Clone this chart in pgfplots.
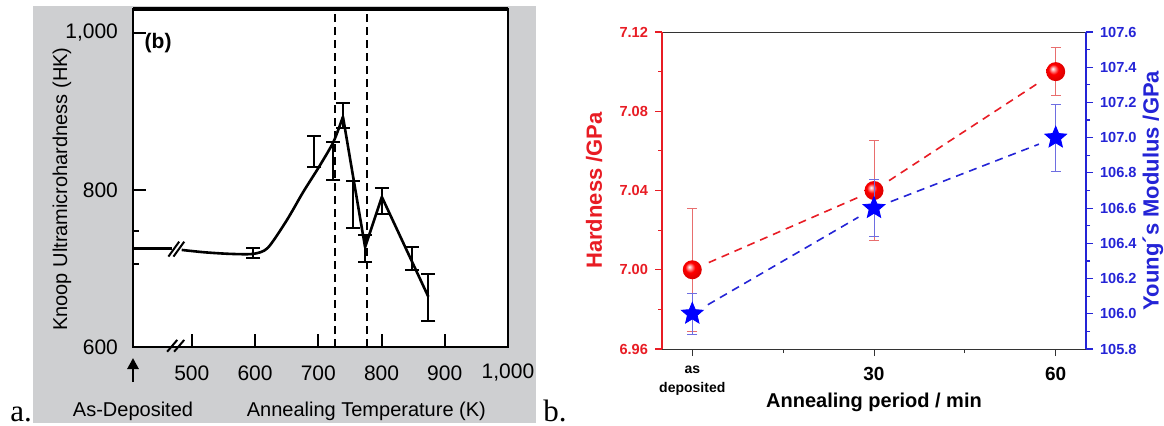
\documentclass[border=0pt]{standalone}
\usepackage{pgfplots}
\pgfplotsset{compat=1.18}
\usepackage{fontspec}
\setmainfont{Liberation Sans}
\newfontfamily\seriffont{Liberation Serif}
\usetikzlibrary{arrows.meta}
\definecolor{bggray}{RGB}{206,207,209}
\definecolor{hred}{RGB}{232,28,36}
\definecolor{yblue}{RGB}{36,36,214}
\definecolor{ered}{RGB}{232,110,110}
\definecolor{eblue}{RGB}{110,110,225}

\pgfdeclareplotmark{fstar}{%
  \pgfpathmoveto{\pgfpointpolar{90}{\pgfplotmarksize}}%
  \pgfpathlineto{\pgfpointpolar{126}{0.45\pgfplotmarksize}}%
  \pgfpathlineto{\pgfpointpolar{162}{\pgfplotmarksize}}%
  \pgfpathlineto{\pgfpointpolar{198}{0.45\pgfplotmarksize}}%
  \pgfpathlineto{\pgfpointpolar{234}{\pgfplotmarksize}}%
  \pgfpathlineto{\pgfpointpolar{270}{0.45\pgfplotmarksize}}%
  \pgfpathlineto{\pgfpointpolar{306}{\pgfplotmarksize}}%
  \pgfpathlineto{\pgfpointpolar{342}{0.45\pgfplotmarksize}}%
  \pgfpathlineto{\pgfpointpolar{18}{\pgfplotmarksize}}%
  \pgfpathlineto{\pgfpointpolar{54}{0.45\pgfplotmarksize}}%
  \pgfpathclose
  \pgfusepathqfillstroke
}
\pgfdeclareradialshading{redball}{\pgfqpoint{-8bp}{8bp}}{%
  color(0bp)=(white); color(4bp)=(red!30!white); color(13bp)=(red);
  color(25bp)=(red!88!black); color(50bp)=(red!88!black)}
\pgfdeclareplotmark{rball}{%
  \pgfpathcircle{\pgfpointorigin}{\pgfplotmarksize}%
  \pgfshadepath{redball}{0}%
  \pgfusepath{}%
}

\begin{document}
\begin{tikzpicture}
\path[use as bounding box] (0,0) rectangle (582pt,212.5pt);
\fill[bggray] (16.5pt,1pt) rectangle (268pt,209.3pt);
\node[anchor=base west, inner sep=0, font=\seriffont\fontsize{15.5}{17}\selectfont] at (5pt,2pt) {a.};
\node[anchor=base west, inner sep=0, font=\seriffont\fontsize{15.5}{17}\selectfont] at (271.5pt,2pt) {b.};

% ---------------- panel a ----------------
\begin{axis}[
  at={(66.5pt,39pt)}, anchor=south west,
  scale only axis, width=187.5pt, height=169pt,
  xmin=407, xmax=1000, ymin=600, ymax=1030,
  axis background/.style={fill=white},
  axis line style={line width=1pt},
  tick align=inside, xtick pos=left, ytick pos=left,
  major tick length=6.5pt,
  tick style={line width=1pt, black},
  xtick={500,600,700,800,900,1000},
  xticklabels={500,600,700,800,900,{1,000}},
  ytick={600,800,1000},
  yticklabels={600,800,{1,000}},
  ticklabel style={font=\fontsize{10.5}{12}\selectfont},
  xticklabel style={anchor=center, yshift=-13pt},
  yticklabel style={anchor=east, xshift=-4pt},
  clip=false,
]
\addplot[black, line width=1.3pt] coordinates {(407,725)(468,725)};
\addplot[black, line width=1.3pt, smooth, tension=0.45] coordinates {
  (484,723.5)(520,720.5)(560,718.5)(597,718.5)(620,726)(650,761)(676,797)(701,829)(724,861)(739,893)};
\addplot[black, line width=1.3pt, sharp plot, line join=round] coordinates {
  (739,893)(774,727)(800.5,791)(874,664)};
% error bars
\addplot[draw=none, mark=none,
  error bars/.cd, y dir=both, y explicit,
  error bar style={line width=1pt, draw=black, solid},
  error mark options={rotate=90, mark size=3.5pt, line width=1pt, draw=black, solid}]
  coordinates {
  (597,719.5) +- (0,6.5)
  (694,848.5) +- (0,19.5)
  (724,836.5) +- (0,24.5)
  (739,894.5) +- (0,15.5)
  (755.6,781) +- (0,30)
  (774,725) +- (0,17)
  (800.5,786) +- (0,16.5)
  (848,713) +- (0,14.5)
  (874,663) +- (0,29.6)
  };
% as-deposited error caps at the axis
\addplot[black, line width=1pt] coordinates {(407,747)(417,747)};
\addplot[black, line width=1pt] coordinates {(407,705)(417,705)};
% dashed verticals
\addplot[black, line width=0.9pt, dash pattern=on 4pt off 2.5pt] coordinates {(727,600)(727,1030)};
\addplot[black, line width=0.9pt, dash pattern=on 4pt off 2.5pt] coordinates {(777,600)(777,1030)};
% axis break marks
\addplot[black, line width=1pt] coordinates {(463,715)(480,734)};
\addplot[black, line width=1pt] coordinates {(471,715)(488,734)};
\addplot[black, line width=1pt] coordinates {(461,594)(477,609)};
\addplot[black, line width=1pt] coordinates {(472,594)(488,609)};
\draw[line width=1.8pt] (rel axis cs:0,1) -- (rel axis cs:1,1);
\draw[line width=1.4pt, -{Triangle[length=5.5pt,width=5.5pt]}] ([yshift=-17.5pt]axis cs:407,600) -- ([yshift=-5.5pt]axis cs:407,600);
\node[font=\fontsize{10}{12}\selectfont] at ([yshift=-32pt]axis cs:407,600) {As-Deposited};
\node[font=\fontsize{10}{12}\selectfont] at ([yshift=-32pt]axis cs:776,600) {Annealing Temperature (K)};
\node[rotate=90, font=\fontsize{10}{12}\selectfont] at ([xshift=-35.5pt]axis cs:407,801) {Knoop Ultramicrohardness (HK)};
\node[font=\bfseries\fontsize{10.5}{12}\selectfont] at (rel axis cs:0.067,0.9) {(b)};
\end{axis}

% ---------------- panel b (left axis) ----------------
\begin{axis}[
  at={(331pt,38pt)}, anchor=south west,
  scale only axis, width=212pt, height=158.5pt,
  xmin=-5, xmax=65, ymin=6.96, ymax=7.12,
  axis x line*=box, axis y line*=left,
  x axis line style={black!80, line width=0.5pt, -},
  y axis line style={hred, line width=0.6pt, -},
  tick align=outside, xtick pos=left,
  xtick={0,30,60}, minor xtick={15,45},
  xticklabels={{\raisebox{3.5pt}{\fontsize{7}{9.6}\selectfont\begin{tabular}[t]{@{}c@{}}as\\deposited\end{tabular}}},30,60},
  xticklabel style={font=\bfseries\fontsize{9.5}{11}\selectfont, anchor=base, yshift=-12pt},
  ytick={6.96,7.00,7.04,7.08,7.12},
  minor ytick={6.98,7.02,7.06,7.10},
  major tick length=3.5pt, minor tick length=2pt,
  x tick style={black!80, line width=0.5pt},
  y tick style={hred, line width=0.6pt},
  /pgf/number format/assume math mode=true,
  yticklabel style={hred, font=\bfseries\fontsize{7.3}{8}\selectfont,
    /pgf/number format/.cd, fixed, fixed zerofill, precision=2},
  clip=false,
]
\addplot[draw=none, mark=none,
  error bars/.cd, y dir=both, y explicit,
  error bar style={line width=0.5pt, draw=ered, solid},
  error mark options={rotate=90, mark size=2.5pt, line width=0.5pt, draw=ered, solid}]
  coordinates {(0,7.00) +- (0,0.031) (30,7.04) +- (0,0.025) (60,7.10) +- (0,0.012)};
\addplot[hred, line width=0.8pt, dash pattern=on 4pt off 3pt, shorten <=9pt, shorten >=9pt] coordinates {(0,7.00)(30,7.04)};
\addplot[hred, line width=0.8pt, dash pattern=on 4pt off 3pt, shorten <=9pt, shorten >=9pt] coordinates {(30,7.04)(60,7.10)};
\addplot[only marks, mark=rball, mark size=4.75pt] coordinates {(0,7.00)(30,7.04)(60,7.10)};
\node[rotate=90, hred, font=\bfseries\fontsize{11}{13}\selectfont] at ([xshift=-34pt]rel axis cs:0,0.5) {Hardness /GPa};
\node[font=\bfseries\fontsize{10}{12}\selectfont] at ([yshift=-26.5pt]rel axis cs:0.5,0) {Annealing period / min};
\end{axis}

% ---------------- panel b (right axis) ----------------
\begin{axis}[
  at={(331pt,38pt)}, anchor=south west,
  scale only axis, width=212pt, height=158.5pt,
  xmin=-5, xmax=65, ymin=105.8, ymax=107.6,
  axis x line=none, axis y line*=right,
  y axis line style={yblue, line width=0.6pt, -},
  tick align=outside,
  ytick={105.8,106.0,106.2,106.4,106.6,106.8,107.0,107.2,107.4,107.6},
  minor ytick={105.9,106.1,106.3,106.5,106.7,106.9,107.1,107.3,107.5},
  major tick length=3.5pt, minor tick length=2pt,
  y tick style={yblue, line width=0.6pt},
  /pgf/number format/assume math mode=true,
  yticklabel style={yblue, font=\bfseries\fontsize{7.3}{8}\selectfont,
    /pgf/number format/.cd, fixed, fixed zerofill, precision=1},
  clip=false,
]
\addplot[draw=none, mark=none,
  error bars/.cd, y dir=both, y explicit,
  error bar style={line width=0.5pt, draw=eblue, solid},
  error mark options={rotate=90, mark size=2.5pt, line width=0.5pt, draw=eblue, solid}]
  coordinates {(0,106.0) +- (0,0.115) (30,106.6) +- (0,0.16) (60,107.0) +- (0,0.19)};
\addplot[yblue, line width=0.8pt, dash pattern=on 4pt off 3pt, shorten <=9pt, shorten >=9pt] coordinates {(0,106.0)(30,106.6)};
\addplot[yblue, line width=0.8pt, dash pattern=on 4pt off 3pt, shorten <=9pt, shorten >=9pt] coordinates {(30,106.6)(60,107.0)};
\addplot[only marks, mark=fstar, mark size=5.7pt, draw=blue, fill=blue, mark options={fill=blue, draw=blue}] coordinates {(0,106.0)(30,106.6)(60,107.0)};
\node[rotate=90, yblue, font=\bfseries\fontsize{11}{13}\selectfont] at ([xshift=33.5pt]rel axis cs:1,0.5) {Young´s Modulus /GPa};
\end{axis}
\end{tikzpicture}
\end{document}
